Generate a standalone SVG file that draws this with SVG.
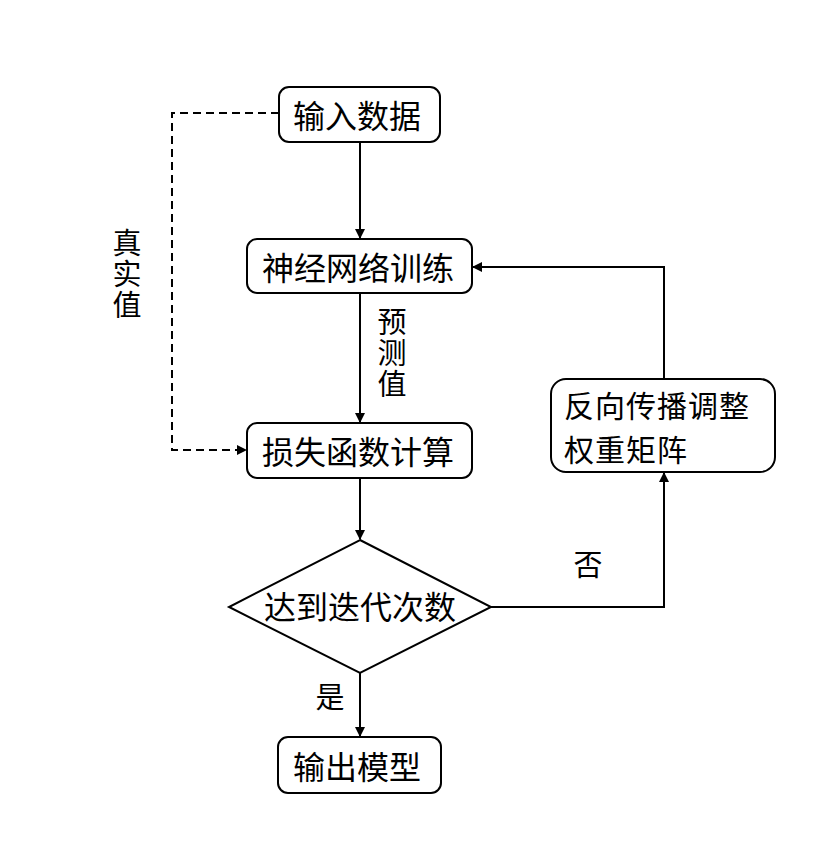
<svg xmlns="http://www.w3.org/2000/svg" width="825" height="859" viewBox="0 0 825 859">
<style>
.box{fill:#fff;stroke:#000;stroke-width:2}
.t{font-family:"Noto Sans CJK SC","Noto Sans",sans-serif;font-size:32px;fill:#000;text-anchor:middle;dominant-baseline:central}
.tl{font-family:"Noto Sans CJK SC","Noto Sans",sans-serif;font-size:30px;letter-spacing:1px;fill:#000;dominant-baseline:central}
.v{font-family:"Noto Sans CJK SC","Noto Sans",sans-serif;font-size:29px;fill:#000;text-anchor:middle;dominant-baseline:central}
.vert{font-family:"Noto Sans CJK SC","Noto Sans",sans-serif;font-size:29px;fill:#000;writing-mode:vertical-rl;text-orientation:upright;letter-spacing:2px;dominant-baseline:central}
.ln{fill:none;stroke:#000;stroke-width:2}
.dash{fill:none;stroke:#000;stroke-width:2;stroke-dasharray:8 5}
</style>
<defs>
<marker id="ah" markerWidth="10" markerHeight="10" refX="9" refY="5" orient="auto" markerUnits="userSpaceOnUse" viewBox="0 0 10 10">
<path d="M0,0 L10,5 L0,10 z" fill="#000"/>
</marker>
</defs>
<rect width="825" height="859" fill="#fff"/>
<g id="connectors">
<line class="ln" x1="360" y1="142" x2="360" y2="238" marker-end="url(#ah)"/>
<line class="ln" x1="360" y1="293" x2="360" y2="422" marker-end="url(#ah)"/>
<line class="ln" x1="360" y1="478" x2="360" y2="539" marker-end="url(#ah)"/>
<line class="ln" x1="360" y1="673" x2="360" y2="736" marker-end="url(#ah)"/>
<polyline class="ln" points="491,607 664,607 664,473" marker-end="url(#ah)"/>
<polyline class="ln" points="664,379 664,267 473,267" marker-end="url(#ah)"/>
<polyline class="dash" points="279,113 172,113 172,450 246,450" marker-end="url(#ah)"/>
<text class="vert" x="392" y="307">预测值</text>
<text class="vert" x="127" y="228">真实值</text>
<text class="v" x="588" y="563">否</text>
<text class="v" x="330" y="695">是</text>
</g>
<g id="input">
<rect class="box" x="279" y="87" width="161" height="55" rx="10"/>
<text class="t" x="357" y="114">输入数据</text>
</g>
<g id="train">
<rect class="box" x="247" y="239" width="225" height="54" rx="10"/>
<text class="t" x="358" y="266">神经网络训练</text>
</g>
<g id="loss">
<rect class="box" x="247" y="423" width="225" height="55" rx="10"/>
<text class="t" x="358" y="450">损失函数计算</text>
</g>
<g id="decision">
<polygon class="box" points="360,540 491,607 360,673 229,607"/>
<text class="t" x="360" y="605">达到迭代次数</text>
</g>
<g id="backprop">
<rect class="box" x="551" y="379" width="224" height="93" rx="15"/>
<text class="tl"><tspan x="564" y="404">反向传播调整</tspan><tspan x="564" y="448">权重矩阵</tspan></text>
</g>
<g id="output">
<rect class="box" x="278" y="737" width="163" height="56" rx="10"/>
<text class="t" x="357" y="765">输出模型</text>
</g>
</svg>
